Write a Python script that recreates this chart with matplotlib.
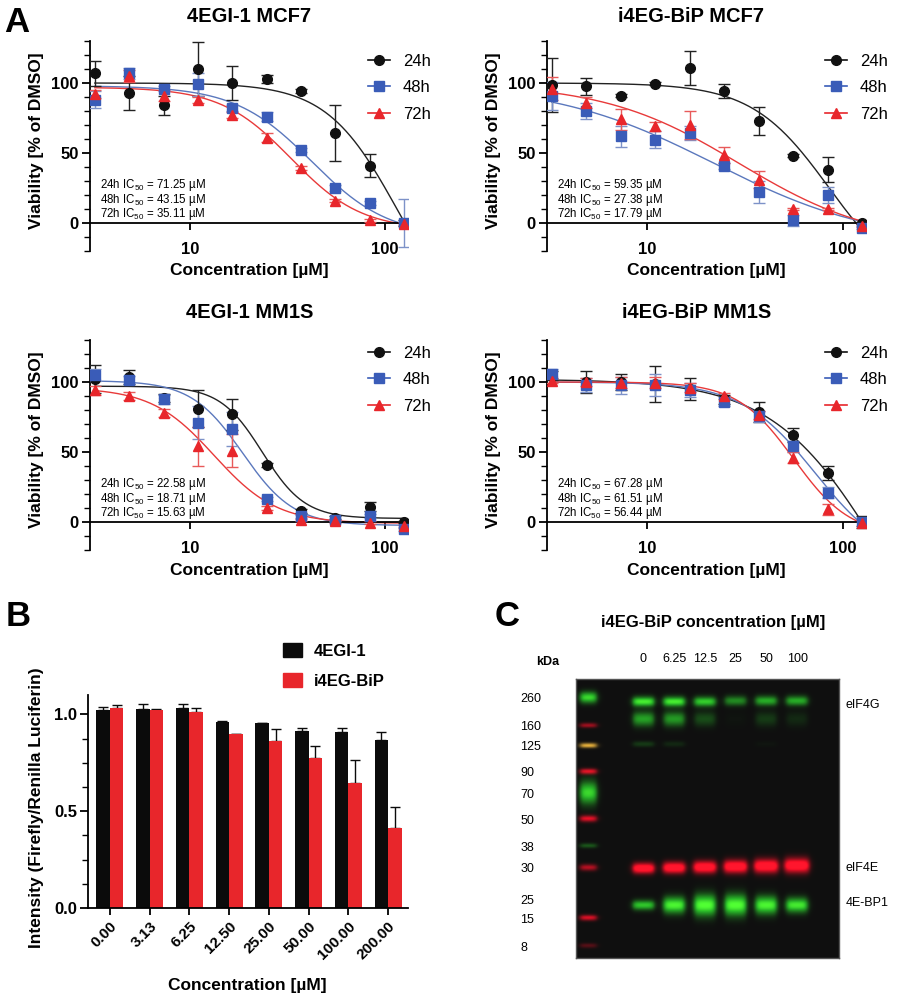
import numpy as np
import matplotlib
matplotlib.use('Agg')
import matplotlib.pyplot as plt
from matplotlib.lines import Line2D
from matplotlib.patches import Patch
from matplotlib.transforms import blended_transform_factory

plt.rcParams['font.family'] = ['Liberation Sans', 'DejaVu Sans']
plt.rcParams['mathtext.default'] = 'regular'

W, H = 897, 997

# ---------------------------------------------------------------------------
# Panel A data: 1.5-fold dilution series, viability [% of DMSO]
# ---------------------------------------------------------------------------
conc = [3.25, 4.88, 7.32, 10.97, 16.46, 24.69, 37.04, 55.56, 83.33, 125.0]
times = ['24h', '48h', '72h']

mcf7_4egi_mean = [[107, 93, 84, 110, 100, 103, 94, 64, 41, 0],
                  [88, 107, 96, 99, 82, 76, 52, 25, 14, 0],
                  [92, 105, 91, 88, 77, 61, 39, 16, 2, -0.5]]
mcf7_4egi_err = [[9, 12, 7, 19, 12, 3, 1.5, 20, 8, 2],
                 [6, 4, 2, 8, 2, 3, 1.5, 2, 1.5, 17],
                 [3, 4, 4, 2, 2, 3, 1.5, 1, 1, 1]]
mcf7_bip_mean = [[98.5, 97.5, 91, 99.5, 110.5, 94.5, 73, 48, 38, 0],
                 [90.5, 80, 62, 59.5, 64, 40.5, 22, 2, 20, -3.5],
                 [96, 86, 74, 69, 70, 48.5, 31, 10, 10, -2]]
mcf7_bip_err = [[19, 6, 1, 1, 12, 5, 10, 1, 9, 1],
                [10, 6, 7.5, 6, 5, 2, 8, 4, 6, 1],
                [8, 4, 7.5, 3, 10, 6, 6, 1, 1, 1]]
mm1s_4egi_mean = [[102, 103.5, 88.5, 81, 77, 41, 8, 3, 11, 0],
                  [105, 101.5, 87.5, 71, 66.5, 16.5, 4, 1.5, 4.5, -5],
                  [94, 90, 78, 54, 51, 10, 1.5, 0.5, -0.5, -3]]
mm1s_4egi_err = [[10, 5, 3, 13, 11, 1.5, 1.5, 1, 3, 1],
                 [4, 3, 3, 12, 12, 1.5, 1, 1, 1.5, 1.5],
                 [3, 3, 3, 14, 12, 1.5, 1, 1, 1, 1]]
mm1s_bip_mean = [[104.5, 100, 100, 98.5, 95, 87.5, 78.5, 62, 35, 0],
                 [106, 98, 97.5, 98, 94.5, 86, 75.5, 54, 21, 0],
                 [101, 100, 99.5, 99.5, 96, 90, 76.5, 46, 9, -0.5]]
mm1s_bip_err = [[3, 8, 6, 13, 8, 3, 7, 5, 5, 4],
                [3, 5, 6, 8, 5, 3, 4, 4, 4, 3],
                [2, 3, 4, 4, 3, 2, 3, 4, 4, 2]]

# 4PL fit parameters (top, bottom, midpoint, hill) per time point
mcf7_4egi_fit = [(100, -80, 115, 2.4), (98, -10, 42, 2.2), (97, -5, 33, 2.4)]
mcf7_bip_fit = [(100, -50, 85, 2.2), (100, -15, 22, 1.05), (100, -15, 29.5, 1.25)]
mm1s_4egi_fit = [(97, 2.5, 23.5, 4.0), (101, -2.5, 18.6, 3.3), (96, -1, 13.3, 2.7)]
mm1s_bip_fit = [(102, -150, 160, 1.55), (100, -30, 72, 2.3), (100, -10, 56, 3.0)]

mcf7_4egi_ic50 = ['71.25', '43.15', '35.11']
mcf7_bip_ic50 = ['59.35', '27.38', '17.79']
mm1s_4egi_ic50 = ['22.58', '18.71', '15.63']
mm1s_bip_ic50 = ['67.28', '61.51', '56.44']

# ---------------------------------------------------------------------------
# Panel B data: luciferase reporter ratio
# ---------------------------------------------------------------------------
b_conc = ['0.00', '3.13', '6.25', '12.50', '25.00', '50.00', '100.00', '200.00']
b_4egi = [1.02, 1.026, 1.031, 0.958, 0.953, 0.913, 0.91, 0.867]
b_4egi_err = [0.017, 0.028, 0.023, 0.009, 0.004, 0.018, 0.017, 0.043]
b_bip = [1.035, 1.023, 1.014, 0.898, 0.861, 0.775, 0.646, 0.411]
b_bip_err = [0.012, 0.006, 0.017, 0.003, 0.061, 0.06, 0.117, 0.112]

# ---------------------------------------------------------------------------
# Panel C data: western blot
# ---------------------------------------------------------------------------
lane_labels = ['0', '6.25', '12.5', '25', '50', '100']
ladder_kda = ['260', '160', '125', '90', '70', '50', '38', '30', '25', '15', '8']
ladder_pos = [0.068, 0.168, 0.24, 0.333, 0.409, 0.502, 0.599, 0.677, 0.789, 0.857, 0.957]
ladder_col = ['g', 'r', 'y', 'r', 'g', 'r', 'g', 'r', 'g', 'r', 'r']
ladder_int = [1.0, 0.6, 0.8, 0.9, 1.0, 0.9, 0.35, 0.7, 0.0, 0.85, 0.3]
ladder_thk = [0.014, 0.006, 0.006, 0.007, 0.028, 0.008, 0.006, 0.008, 0.0, 0.007, 0.006]
eif4g_top = [1.0, 1.0, 0.85, 0.55, 0.7, 0.7]
eif4g_mid = [0.85, 0.8, 0.35, 0.03, 0.25, 0.15]
eif4g_low = [0.35, 0.2, 0.0, 0.0, 0.05, 0.0]
eif4e = [1.0, 1.0, 1.0, 1.0, 1.0, 1.0]
bp1 = [0.75, 0.95, 1.0, 1.0, 0.95, 0.9]
bp1_thk = [0.012, 0.020, 0.026, 0.026, 0.022, 0.018]
protein_names = ['eIF4G', 'eIF4E', '4E-BP1']
protein_pos = [0.093, 0.677, 0.803]

BLACK = '#111111'
BLUE = '#3a5cb8'
RED = '#e8262b'
series_colors = [BLACK, BLUE, RED]
curve_colors = ['#222222', '#5b78bd', '#e83a3a']
err_colors = ['#222222', '#7d92c8', '#e85a5a']
markers = ['o', 's', '^']


def box(l, t, r, b):
    return [l / W, 1 - b / H, (r - l) / W, (b - t) / H]


def logistic(x, top, bottom, mid, hill):
    return bottom + (top - bottom) / (1 + (x / mid) ** hill)


fig = plt.figure(figsize=(W / 100, H / 100), dpi=100)


def dose_panel(rect, title, title_xy, means, errs, fits, ic50s, ic_xy, leg_xy, ylab_x):
    ax = fig.add_axes(box(*rect))
    xs = np.logspace(np.log10(conc[0]), np.log10(conc[-1]), 300)
    for i in range(3):
        ax.plot(xs, logistic(xs, *fits[i]), color=curve_colors[i], lw=1.0, zorder=2)
        ax.errorbar(conc, means[i], yerr=errs[i], fmt='none', ecolor=err_colors[i],
                    elinewidth=1.0, capsize=4, capthick=1.0, zorder=3)
        ax.plot(conc, means[i], ls='none', marker=markers[i], ms=7,
                color=series_colors[i], mec=series_colors[i], zorder=4)
    ax.set_xscale('log')
    ax.set_xlim(3.07, 131)
    ax.set_ylim(-20, 130)
    ax.spines[['top', 'right']].set_visible(False)
    ax.spines['bottom'].set_position(('data', 0))
    ax.spines['left'].set_linewidth(1.3)
    ax.spines['bottom'].set_linewidth(1.3)
    ax.set_xticks([10, 100], ['10', '100'])
    ax.xaxis.set_minor_locator(matplotlib.ticker.NullLocator())
    ax.set_yticks([0, 50, 100], ['0', '50', '100'])
    ax.set_yticks(np.arange(-20, 131, 10), minor=True)
    ax.tick_params(axis='x', length=5, width=1.3, pad=9, labelsize=12)
    ax.tick_params(axis='y', which='major', length=6, width=1.3, pad=2, labelsize=12)
    ax.tick_params(axis='y', which='minor', length=4, width=1.0)
    for lab in ax.get_xticklabels() + ax.get_yticklabels():
        lab.set_fontweight('bold')

    fig.text(title_xy[0] / W, 1 - title_xy[1] / H, title, ha='center', va='center',
             fontsize=14.5, fontweight='bold')
    cx = (rect[0] + rect[2]) / 2
    fig.text(cx / W, 1 - (rect[3] + 20) / H, 'Concentration [µM]', ha='center', va='center',
             fontsize=12.5, fontweight='bold')
    fig.text(ylab_x / W, 1 - (rect[1] + rect[3] - 10) / 2 / H, 'Viability [% of DMSO]',
             ha='center', va='center', rotation=90, fontsize=12.5, fontweight='bold')

    # IC50 annotations, one line each at fixed spacing
    for k, (t, v) in enumerate(zip(times, ic50s)):
        fig.text(ic_xy[0] / W, 1 - (ic_xy[1] + 14.5 * k) / H,
                 f'{t} IC$_{{50}}$ = {v} µM', ha='left', va='baseline', fontsize=8.3)

    handles = [Line2D([], [], color=series_colors[i], marker=markers[i], ms=7, lw=1.2)
               for i in range(3)]
    fig.legend(handles, times, loc='upper left',
               bbox_to_anchor=(leg_xy[0] / W, 1 - leg_xy[1] / H), frameon=False,
               fontsize=12, handlelength=1.3, handletextpad=0.8, labelspacing=0.68,
               borderaxespad=0, borderpad=0)
    return ax


dose_panel((90, 41, 408, 251), '4EGI-1 MCF7', (249, 17), mcf7_4egi_mean, mcf7_4egi_err,
           mcf7_4egi_fit, mcf7_4egi_ic50, (100, 188), (368, 54), 37)
dose_panel((547, 41, 866, 251), 'i4EG-BiP MCF7', (691, 17), mcf7_bip_mean, mcf7_bip_err,
           mcf7_bip_fit, mcf7_bip_ic50, (557, 188), (825, 54), 493)
dose_panel((90, 340, 408, 550), '4EGI-1 MM1S', (250, 313), mm1s_4egi_mean, mm1s_4egi_err,
           mm1s_4egi_fit, mm1s_4egi_ic50, (100, 487), (368, 346), 37)
dose_panel((547, 340, 866, 550), 'i4EG-BiP MM1S', (697, 313), mm1s_bip_mean, mm1s_bip_err,
           mm1s_bip_fit, mm1s_bip_ic50, (557, 487), (825, 346), 493)

# ---------------------------------------------------------------------------
# Panel B
# ---------------------------------------------------------------------------
axb = fig.add_axes(box(88, 695, 408, 908))
xb = np.arange(len(b_conc))
bw = 0.34
axb.bar(xb - bw / 2, b_4egi, bw, color='#0b0b0b', zorder=2)
axb.bar(xb + bw / 2, b_bip, bw, color=RED, zorder=2)
axb.errorbar(xb - bw / 2, b_4egi, yerr=[np.zeros(len(xb)), b_4egi_err], fmt='none',
             ecolor='#0b0b0b', elinewidth=1.0, capsize=3.5, capthick=1.0, zorder=1)
axb.errorbar(xb + bw / 2, b_bip, yerr=[np.zeros(len(xb)), b_bip_err], fmt='none',
             ecolor='#0b0b0b', elinewidth=1.0, capsize=3.5, capthick=1.0, zorder=1)
axb.set_xlim(-0.55, 7.5)
axb.set_ylim(0, 1.1)
axb.spines[['top', 'right']].set_visible(False)
axb.spines['left'].set_linewidth(1.3)
axb.spines['bottom'].set_linewidth(1.3)
axb.set_yticks([0, 0.5, 1.0], ['0.0', '0.5', '1.0'])
axb.set_yticks(np.arange(0, 1.1, 0.125), minor=True)
axb.set_xticks(xb, b_conc, rotation=45, ha='right', rotation_mode='anchor')
axb.tick_params(axis='x', length=5, width=1.3, pad=3, labelsize=11)
axb.tick_params(axis='y', which='major', length=6, width=1.3, pad=2, labelsize=12)
axb.tick_params(axis='y', which='minor', length=4, width=1.0)
for lab in axb.get_xticklabels() + axb.get_yticklabels():
    lab.set_fontweight('bold')
fig.text(247 / W, 1 - 985 / H, 'Concentration [µM]', ha='center', va='center',
         fontsize=12.5, fontweight='bold')
fig.text(37 / W, 1 - 808 / H, 'Intensity (Firefly/Renilla Luciferin)', ha='center',
         va='center', rotation=90, fontsize=12.5, fontweight='bold')
fig.legend([Patch(color='#0b0b0b'), Patch(color=RED)], ['4EGI-1', 'i4EG-BiP'],
           loc='upper left', bbox_to_anchor=(283 / W, 1 - 643 / H), frameon=False,
           prop={'size': 12, 'weight': 'bold'}, handlelength=1.15, handleheight=0.9,
           handletextpad=0.7, labelspacing=0.85, borderaxespad=0, borderpad=0)

# ---------------------------------------------------------------------------
# Panel C: western blot rendered from band intensities
# ---------------------------------------------------------------------------
axc = fig.add_axes(box(576, 679, 839, 958))
x_left, x_right = -2.19, 6.36
ladder_x = -1.8
gx = np.linspace(x_left, x_right, 300)
gy = np.linspace(0, 1, 320)
XX, YY = np.meshgrid(gx, gy)
green = np.zeros_like(XX)
red = np.zeros_like(XX)


def add_band(chan, lx, ly, inten, half_w, sig_y):
    if inten <= 0:
        return
    hprof = 1 / (1 + np.exp((np.abs(XX - lx) - half_w) / 0.05))
    vprof = np.exp(-0.5 * ((YY - ly) / sig_y) ** 2)
    chan += inten * hprof * vprof


for pos, col, inten, thk in zip(ladder_pos, ladder_col, ladder_int, ladder_thk):
    if col in ('g', 'y'):
        add_band(green, ladder_x, pos, inten, 0.26, max(thk, 0.004))
    if col in ('r', 'y'):
        add_band(red, ladder_x, pos, inten, 0.26, max(thk, 0.004))
for i in range(len(lane_labels)):
    add_band(green, i, 0.083 - 0.003 * (i >= 3), eif4g_top[i] * 1.1, 0.34, 0.012)
    add_band(green, i, 0.145, eif4g_mid[i] * 0.85, 0.33, 0.018)
    add_band(green, i, 0.235, eif4g_low[i] * 0.6, 0.33, 0.007)
    add_band(red, i, 0.68 - 0.002 * i, eif4e[i] * 1.3, 0.34 + 0.01 * i, 0.013 + 0.001 * i)
    add_band(green, i, 0.812, bp1[i] * 1.2, 0.34, bp1_thk[i])

img = np.zeros(XX.shape + (3,))
g = np.clip(green, 0, 1.2)
r = np.clip(red, 0, 1.2)
img[..., 0] = 0.06 + 0.95 * r + 0.3 * np.clip(g - 0.8, 0, 1) + 0.12 * g
img[..., 1] = 0.06 + 0.8 * g + 0.1 * np.clip(r - 0.9, 0, 1)
img[..., 2] = 0.06 + 0.12 * g + 0.1 * r
img = np.clip(img, 0, 1)
axc.imshow(img, extent=(x_left, x_right, 1, 0), aspect='auto', interpolation='bilinear')
axc.set_xlim(x_left, x_right)
axc.set_ylim(1, 0)
for s in axc.spines.values():
    s.set_linewidth(1.0)
    s.set_color('#555555')
axc.set_xticks(range(len(lane_labels)), lane_labels)
axc.xaxis.tick_top()
axc.tick_params(axis='x', length=0, pad=10, labelsize=9)
axc.set_yticks(ladder_pos, ladder_kda)
axc.tick_params(axis='y', length=0, pad=40, labelsize=9)
for lab in axc.get_yticklabels():
    lab.set_horizontalalignment('left')
trc = blended_transform_factory(axc.transAxes, axc.transData)
for name, pos in zip(protein_names, protein_pos):
    axc.text(1.025, pos, name, transform=trc, ha='left', va='center', fontsize=9)
fig.text(536 / W, 1 - 662 / H, 'kDa', ha='left', va='center', fontsize=9, fontweight='bold')
fig.text(713 / W, 1 - 623 / H, 'i4EG-BiP concentration [µM]', ha='center', va='center',
         fontsize=12, fontweight='bold')

# panel letters
for letter, (px, py) in zip('ABC', [(4, 22), (6, 617), (495, 617)]):
    fig.text(px / W, 1 - py / H, letter, ha='left', va='center', fontsize=25,
             fontweight='bold')

fig.savefig('out.png', dpi=100)
